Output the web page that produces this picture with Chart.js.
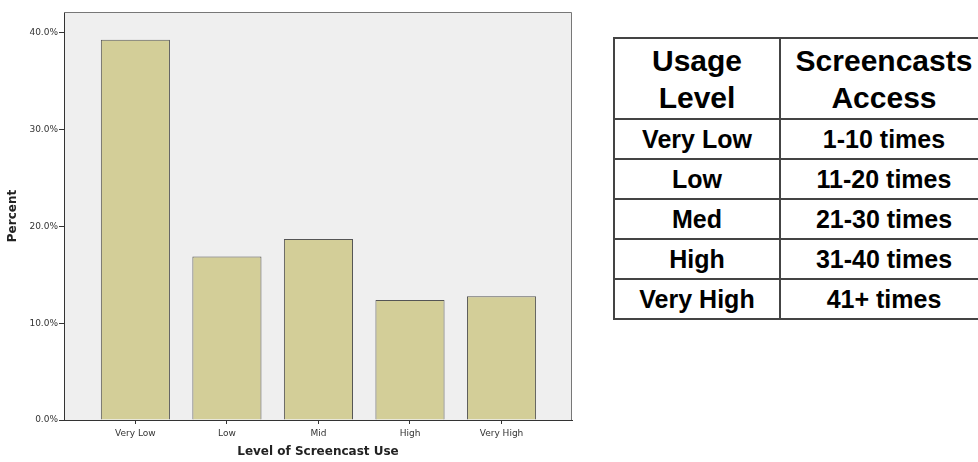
<!DOCTYPE html>
<html lang="en">
<head>
    <meta charset="UTF-8">
    <title>Level of Screencast Use</title>
    <script src="https://cdn.jsdelivr.net/npm/chart.js"></script>
    <style>
        body {
            margin: 0;
            background: #fff;
            width: 978px;
            height: 462px;
            overflow: hidden;
            position: relative;
        }
        #chartBox {
            position: absolute;
            left: 0;
            top: 0;
            width: 600px;
            height: 462px;
        }
        #usage {
            position: absolute;
            left: 613px;
            top: 37px;
            width: 374px;
            border-collapse: collapse;
            font-family: 'Liberation Sans', Arial, sans-serif;
            color: #000;
            table-layout: fixed;
        }
        #usage td, #usage th {
            border: 2px solid #444;
            text-align: center;
            padding: 0;
        }
        #usage th {
            height: 79px;
            font-size: 30px;
            font-weight: bold;
            line-height: 37px;
        }
        #usage td {
            height: 38px;
            font-size: 25px;
            font-weight: bold;
        }
    </style>
</head>
<body>
    <div id="chartBox"><canvas id="useChart" width="600" height="462"></canvas></div>
    <table id="usage">
        <colgroup><col style="width:166px"><col style="width:208px"></colgroup>
        <thead><tr><th>Usage<br>Level</th><th>Screencasts<br>Access</th></tr></thead>
        <tbody></tbody>
    </table>
    <script>
        const categories = ['Very Low', 'Low', 'Mid', 'High', 'Very High'];
        const percents = [39.3, 16.9, 18.7, 12.4, 12.8];
        const yTicks = [0, 10, 20, 30, 40];

        const usageLevels = ['Very Low', 'Low', 'Med', 'High', 'Very High'];
        const accessRanges = ['1-10 times', '11-20 times', '21-30 times', '31-40 times', '41+ times'];

        // fill the legend table
        const tbody = document.querySelector('#usage tbody');
        usageLevels.forEach((lvl, i) => {
            const tr = document.createElement('tr');
            const a = document.createElement('td');
            a.textContent = lvl;
            const b = document.createElement('td');
            b.textContent = accessRanges[i];
            tr.appendChild(a);
            tr.appendChild(b);
            tbody.appendChild(tr);
        });

        // grey plot box with thin frame on top/right
        const plotBox = {
            id: 'plotBox',
            beforeDraw(chart) {
                const a = chart.chartArea;
                const ctx = chart.ctx;
                ctx.save();
                ctx.fillStyle = '#efefef';
                ctx.fillRect(a.left, a.top, a.right - a.left, a.bottom - a.top);
                ctx.restore();
            },
            afterDraw(chart) {
                const a = chart.chartArea;
                const ctx = chart.ctx;
                ctx.save();
                ctx.strokeStyle = '#777';
                ctx.lineWidth = 1;
                ctx.beginPath();
                ctx.moveTo(a.left, a.top + 0.5);
                ctx.lineTo(a.right - 0.5, a.top + 0.5);
                ctx.lineTo(a.right - 0.5, a.bottom);
                ctx.stroke();
                ctx.restore();
            }
        };

        const tickFont = { family: "'DejaVu Sans', Verdana, sans-serif", size: 9 };
        const titleFont = { family: "'DejaVu Sans', Verdana, sans-serif", size: 12, weight: 'bold' };

        new Chart(document.getElementById('useChart'), {
            type: 'bar',
            data: {
                datasets: [{
                    label: 'Percent',
                    data: categories.map((c, i) => ({ x: i, y: percents[i] })),
                    backgroundColor: '#d3ce98',
                    borderColor: '#555',
                    borderWidth: 1,
                    categoryPercentage: 1,
                    barPercentage: 0.755
                }]
            },
            options: {
                responsive: false,
                animation: false,
                layout: { padding: { top: 12, right: 28, bottom: 0, left: 0 } },
                plugins: {
                    legend: { display: false },
                    tooltip: { enabled: false }
                },
                scales: {
                    x: {
                        type: 'linear',
                        offset: false,
                        min: -0.78,
                        max: 4.77,
                        afterBuildTicks: s => { s.ticks = categories.map((c, i) => ({ value: i })); },
                        afterFit: s => { s.height = 42; },
                        border: { color: '#333', width: 1 },
                        grid: { drawOnChartArea: false, offset: false, tickLength: 4, color: '#333' },
                        ticks: {
                            callback: v => categories[v],
                            font: tickFont,
                            color: '#333',
                            padding: 4,
                            maxRotation: 0
                        },
                        title: {
                            display: true,
                            text: 'Level of Screencast Use',
                            font: titleFont,
                            color: '#222',
                            padding: { top: 0, bottom: 3 }
                        }
                    },
                    y: {
                        min: 0,
                        max: 42.17,
                        afterBuildTicks: s => { s.ticks = yTicks.map(v => ({ value: v })); },
                        afterFit: s => { s.width = 64; },
                        border: { color: '#333', width: 1 },
                        grid: { drawOnChartArea: false, tickLength: 5, color: '#333' },
                        ticks: {
                            callback: v => v.toFixed(1) + '%',
                            font: tickFont,
                            color: '#333',
                            padding: 1
                        },
                        title: {
                            display: true,
                            text: 'Percent',
                            font: titleFont,
                            color: '#222',
                            padding: { top: 6, bottom: 0 }
                        }
                    }
                }
            },
            plugins: [plotBox]
        });
    </script>
</body>
</html>
